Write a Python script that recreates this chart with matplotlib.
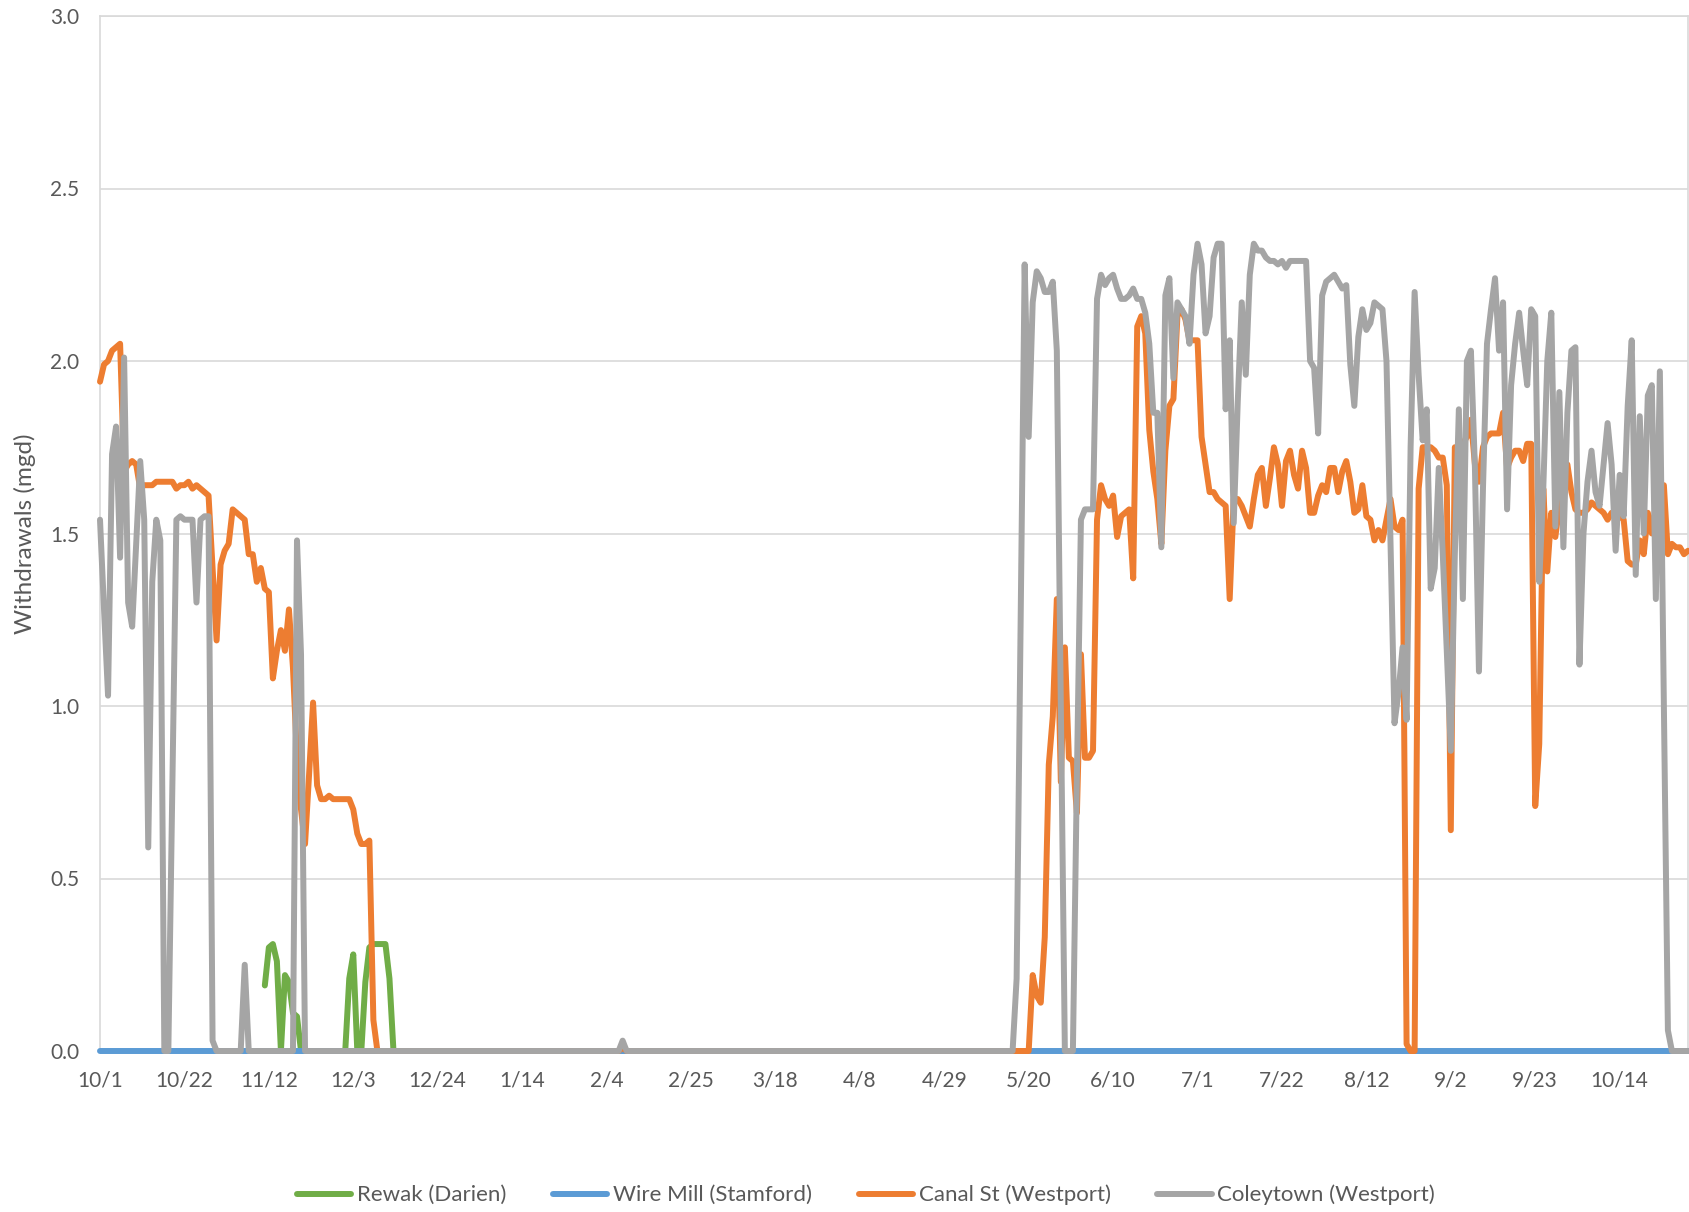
import numpy as np
import pandas as pd
import matplotlib
matplotlib.use("Agg")
import matplotlib.pyplot as plt

plt.rcParams['font.family'] = ['Lato', 'DejaVu Sans']

# daily categories, 10/1 to 10/31 of the following year
dates = pd.date_range("2020-10-01", "2021-10-31", freq="D")
tick_step = 21

# Rewak (Darien): only reported for a few weeks in Nov/Dec
rewak_first_day = 41
rewak_vals = [0.19, 0.30, 0.31, 0.26, 0.00, 0.22, 0.20, 0.11, 0.10, 0.00,
              0.00, 0.00, 0.00, 0.00, 0.00, 0.00, 0.00, 0.00, 0.00, 0.00,
              0.00, 0.21, 0.28, 0.00, 0.00, 0.20, 0.30, 0.31, 0.31, 0.31,
              0.31, 0.21, 0.00]

# Wire Mill (Stamford): zero all period
wire_mill = [0.0] * len(dates)

# Canal St (Westport)
canal_st = (
    [1.94, 1.99, 2.00, 2.03, 2.04, 2.05, 1.68, 1.70, 1.71, 1.70,
     1.63, 1.64, 1.64, 1.64, 1.65, 1.65, 1.65, 1.65, 1.65, 1.63,
     1.64, 1.64, 1.65, 1.63, 1.64, 1.63, 1.62, 1.61, 1.40, 1.19,
     1.41, 1.45, 1.47, 1.57, 1.56, 1.55, 1.54, 1.44, 1.44, 1.36,
     1.40, 1.34, 1.33, 1.08, 1.16, 1.22, 1.16, 1.28, 1.11, 0.85,
     0.70, 0.60, 0.80, 1.01, 0.77, 0.73, 0.73, 0.74, 0.73, 0.73,
     0.73, 0.73, 0.73, 0.70, 0.63, 0.60, 0.60, 0.61, 0.09, 0.00]
    + [0.0] * 60 + [0.01] + [0.0] * 101
    + [0.22, 0.16, 0.14, 0.33, 0.83, 0.97, 1.31, 0.78,
       1.17, 0.85, 0.84, 0.69, 1.15, 0.85, 0.85, 0.87, 1.54, 1.64,
       1.60, 1.58, 1.61, 1.49, 1.55, 1.56, 1.57, 1.37, 2.10, 2.13,
       2.08, 1.80, 1.68, 1.60, 1.47, 1.74, 1.87, 1.89, 2.13, 2.15,
       2.12, 2.06, 2.06, 2.06, 1.78, 1.70, 1.62, 1.62, 1.60, 1.59,
       1.58, 1.31, 1.60, 1.60, 1.58, 1.55, 1.52, 1.60, 1.67, 1.69,
       1.58, 1.66, 1.75, 1.70, 1.58, 1.71, 1.74, 1.67, 1.63, 1.74,
       1.69, 1.56, 1.56, 1.61, 1.64, 1.62, 1.69, 1.69, 1.62, 1.68,
       1.71, 1.65, 1.56, 1.57, 1.64, 1.55, 1.54, 1.48, 1.51, 1.48,
       1.54, 1.60, 1.52, 1.51, 1.54, 0.02, 0.00, 0.00, 1.63, 1.75,
       1.75, 1.75, 1.74, 1.72, 1.72, 1.64, 0.64, 1.75, 1.75, 1.76,
       1.78, 1.83, 1.70, 1.65, 1.75, 1.78, 1.79, 1.79, 1.79, 1.85,
       1.69, 1.72, 1.74, 1.74, 1.71, 1.76, 1.76, 0.71, 0.89, 1.63,
       1.39, 1.56, 1.49, 1.58, 1.62, 1.70, 1.62, 1.57, 1.56, 1.56,
       1.57, 1.59, 1.58, 1.57, 1.56, 1.54, 1.56, 1.55, 1.55, 1.54,
       1.42, 1.41, 1.41, 1.48, 1.44, 1.56, 1.50, 1.58, 1.64, 1.64,
       1.44, 1.47, 1.46, 1.46, 1.44, 1.45]
)

# Coleytown (Westport)
coleytown = (
    [1.54, 1.28, 1.03, 1.73, 1.81, 1.43, 2.01, 1.30, 1.23, 1.47,
     1.71, 1.54, 0.59, 1.36, 1.54, 1.48, 0.00, 0.00, 0.77, 1.54,
     1.55, 1.54, 1.54, 1.54, 1.30, 1.54, 1.55, 1.55, 0.03, 0.00,
     0.00, 0.00, 0.00, 0.00, 0.00, 0.00, 0.25, 0.00, 0.00, 0.00,
     0.00, 0.00, 0.00, 0.00, 0.00, 0.00, 0.00, 0.00, 0.00, 1.48,
     1.15]
    + [0.0] * 79 + [0.03] + [0.0] * 97
    + [0.21, 1.25,
       2.28, 1.78, 2.17, 2.26, 2.24, 2.20, 2.20, 2.23, 2.03, 1.00,
       0.00, 0.00, 0.00, 0.80, 1.54, 1.57, 1.57, 1.57, 2.18, 2.25,
       2.22, 2.24, 2.25, 2.21, 2.18, 2.18, 2.19, 2.21, 2.18, 2.18,
       2.14, 2.05, 1.85, 1.85, 1.46, 2.19, 2.24, 1.95, 2.17, 2.15,
       2.13, 2.05, 2.25, 2.34, 2.28, 2.08, 2.13, 2.30, 2.34, 2.34,
       1.86, 2.06, 1.53, 1.88, 2.17, 1.96, 2.25, 2.34, 2.32, 2.32,
       2.30, 2.29, 2.29, 2.28, 2.29, 2.27, 2.29, 2.29, 2.29, 2.29,
       2.29, 2.00, 1.98, 1.79, 2.19, 2.23, 2.24, 2.25, 2.23, 2.21,
       2.22, 1.99, 1.87, 2.07, 2.15, 2.09, 2.11, 2.17, 2.16, 2.15,
       2.00, 1.48, 0.95, 1.04, 1.17, 0.96, 1.75, 2.20, 1.96, 1.77,
       1.86, 1.34, 1.40, 1.69, 1.44, 1.16, 0.87, 1.44, 1.86, 1.31,
       2.00, 2.03, 1.69, 1.10, 1.63, 2.05, 2.15, 2.24, 2.03, 2.17,
       1.57, 1.93, 2.05, 2.14, 2.03, 1.93, 2.15, 2.13, 1.36, 1.63,
       2.00, 2.14, 1.52, 1.91, 1.46, 1.85, 2.03, 2.04, 1.12, 1.50,
       1.65, 1.74, 1.62, 1.58, 1.70, 1.82, 1.70, 1.45, 1.67, 1.55,
       1.87, 2.06, 1.38, 1.84, 1.50, 1.90, 1.93, 1.31, 1.97, 1.00,
       0.06, 0.00, 0.00, 0.00, 0.00, 0.00]
)

rewak = np.full(len(dates), np.nan)
rewak[rewak_first_day:rewak_first_day + len(rewak_vals)] = rewak_vals

series = [
    ("Rewak (Darien)", rewak, "#70AD47"),
    ("Wire Mill (Stamford)", np.array(wire_mill), "#5B9BD5"),
    ("Canal St (Westport)", np.array(canal_st), "#ED7D31"),
    ("Coleytown (Westport)", np.array(coleytown), "#A5A5A5"),
]

W, H = 1690, 1212
fig = plt.figure(figsize=(W / 100, H / 100), dpi=100)
ax = fig.add_axes([100 / W, 1 - 1051 / H, 1588 / W, 1035 / H])

x = np.arange(len(dates))
for i, (name, y, col) in enumerate(series):
    ax.plot(x, y, color=col, lw=4.3, label=name, clip_on=False,
            solid_joinstyle="round", solid_capstyle="round", zorder=3 + i)

ax.set_xlim(0, len(dates) - 1)
ax.set_ylim(0, 3.0)
yt = np.arange(0, 3.01, 0.5)
ax.set_yticks(yt)
ax.set_yticklabels([f"{v:.1f}" for v in yt])
ax.set_xticks(x[::tick_step])
ax.set_xticklabels([f"{d.month}/{d.day}" for d in dates[::tick_step]])

ax.grid(axis="y", color="#D9D9D9", lw=1.2)
ax.set_axisbelow(True)
for s in ax.spines.values():
    s.set_color("#D9D9D9")
    s.set_linewidth(1.2)

ax.tick_params(axis="both", length=0, labelsize=15, labelcolor="#595959")
ax.tick_params(axis="x", pad=14)
ax.tick_params(axis="y", pad=15)

ax.set_ylabel("Withdrawals (mgd)", fontsize=17.5, color="#595959")
ax.yaxis.set_label_coords(-0.040, 0.5)

fig.legend(loc="center", bbox_to_anchor=(866 / W, 1 - 1195 / H), ncol=4,
           frameon=False, fontsize=16, handlelength=2.45, handletextpad=0.25,
           columnspacing=2.1, labelcolor="#595959")

fig.savefig("out.png", dpi=100)
